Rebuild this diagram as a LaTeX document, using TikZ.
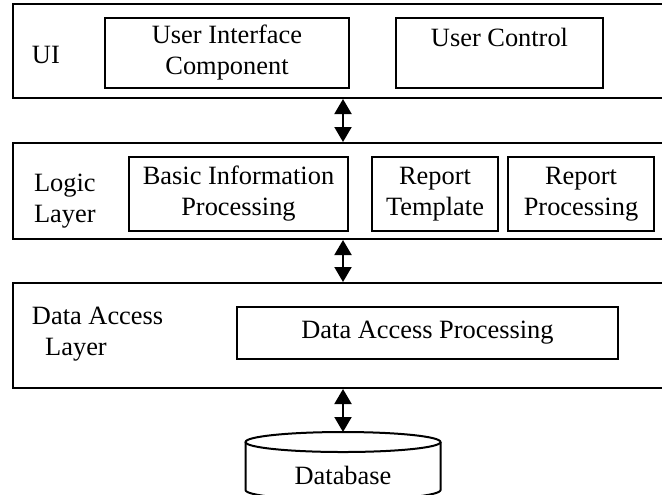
\documentclass[tikz,border=0pt]{standalone}
\usepackage{fontspec}
\setmainfont{Liberation Serif}
\usetikzlibrary{arrows.meta,fit}

\begin{document}
\begin{tikzpicture}[x=.5pt,y=-.5pt,line width=1pt,
    font=\fontsize{13.2}{15.5}\selectfont,
    layer/.style={draw,inner sep=0pt},
    module/.style={draw,inner sep=0pt,align=center},
    tag/.style={anchor=west,align=left,inner sep=0pt},
    link/.style={{Triangle[width=8.5pt,length=7.5pt]}-{Triangle[width=8.5pt,length=7.5pt]}}]
  \clip (0,0) rectangle (662,494);
  % layers
  \node[layer,fit={(13,4) (663,98)}] (ui) {};
  \node[layer,fit={(13,143) (663,239)}] (logic) {};
  \node[layer,fit={(13,283) (663,388)}] (dal) {};
  \node[tag] (uitag) at (31,55) {UI};
  \node[tag] (logictag) at (33,201) {Logic\\Layer};
  \node[tag] (daltag) at (31,334) {Data Access\\\hspace{.5em}Layer};
  % modules
  \node[module,minimum width=122pt,minimum height=35pt] (uic) at (227,53) {User Interface\\Component};
  \node[module,minimum width=103.5pt,minimum height=35pt] (uctl) at (499.5,53) {User Control\\\mbox{}};
  \node[module,minimum width=109.5pt,minimum height=37pt] (basic) at (238.5,194) {Basic Information\\Processing};
  \node[module,minimum width=63pt,minimum height=37pt] (rtpl) at (435,194) {Report\\Template};
  \node[module,minimum width=73pt,minimum height=37pt] (rproc) at (581,194) {Report\\Processing};
  \node[module,minimum width=190.5pt,minimum height=26pt] (dap) at (427.5,333) {Data Access Processing};
  % database
  \draw (343,442) ellipse [x radius=97.5,y radius=10];
  \draw (245.5,442) -- (245.5,490) arc[start angle=180,end angle=0,x radius=97.5,y radius=10] -- (440.5,442);
  \node (db) at (343,475) {Database};
  \coordinate (dbtop) at (343,432);
  % links
  \draw[link] (ui.south -| db) -- (logic.north -| db);
  \draw[link] (logic.south -| db) -- (dal.north -| db);
  \draw[link] (dal.south -| db) -- (dbtop);
\end{tikzpicture}
\end{document}
